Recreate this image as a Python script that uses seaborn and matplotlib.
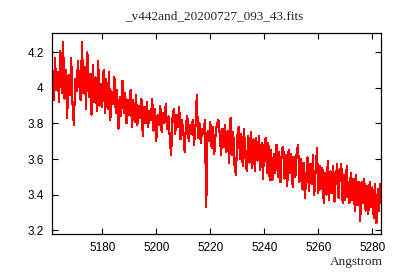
import numpy as np
import pandas as pd
import matplotlib
matplotlib.use("Agg")
import matplotlib.pyplot as plt
import seaborn as sns

title = "_v442and_20200727_093_43.fits"
xlabel = "Angstrom"
wl_start = 5161.5   # first wavelength (Angstrom)
wl_step = 0.5       # sampling step (Angstrom)
flux = [
    4.12, 3.93, 4.17, 3.99, 4.09, 3.92, 4.21, 3.97, 4.26, 3.94,
    4.10, 3.83, 4.07, 3.96, 4.17, 3.91, 3.79, 4.05, 3.98, 4.15,
    4.02, 3.93, 4.26, 3.97, 4.12, 3.88, 4.20, 3.95, 4.08, 3.85,
    4.13, 3.92, 4.06, 3.87, 4.15, 3.90, 4.02, 3.89, 4.10, 3.86,
    4.05, 3.88, 4.09, 3.82, 3.98, 3.91, 4.06, 3.86, 3.99, 3.77,
    3.95, 3.84, 4.04, 3.86, 3.97, 3.80, 3.93, 3.85, 3.99, 3.78,
    3.93, 3.81, 3.96, 3.79, 3.90, 3.83, 3.94, 3.73, 3.89, 3.80,
    3.92, 3.78, 3.87, 3.82, 3.94, 3.76, 3.88, 3.70, 3.85, 3.79,
    3.90, 3.75, 3.86, 3.80, 3.91, 3.77, 3.84, 3.72, 3.62, 3.83,
    3.88, 3.74, 3.85, 3.78, 3.89, 3.71, 3.82, 3.76, 3.64, 3.80,
    3.84, 3.70, 3.79, 3.74, 3.82, 3.68, 3.78, 3.96, 3.72, 3.80,
    3.69, 3.77, 3.74, 3.82, 3.33, 3.76, 3.70, 3.81, 3.66, 3.78,
    3.63, 3.75, 3.80, 3.82, 3.74, 3.62, 3.77, 3.67, 3.79, 3.64,
    3.76, 3.58, 3.83, 3.62, 3.75, 3.56, 3.51, 3.73, 3.78, 3.60,
    3.74, 3.56, 3.77, 3.61, 3.53, 3.73, 3.58, 3.75, 3.55, 3.71,
    3.53, 3.72, 3.59, 3.73, 3.54, 3.69, 3.49, 3.67, 3.72, 3.52,
    3.69, 3.48, 3.65, 3.48, 3.63, 3.52, 3.68, 3.50, 3.64, 3.47,
    3.66, 3.67, 3.49, 3.62, 3.45, 3.65, 3.52, 3.63, 3.44, 3.61,
    3.50, 3.64, 3.68, 3.47, 3.60, 3.43, 3.58, 3.38, 3.49, 3.61,
    3.42, 3.57, 3.46, 3.62, 3.40, 3.54, 3.66, 3.41, 3.56, 3.43,
    3.55, 3.35, 3.52, 3.40, 3.59, 3.37, 3.53, 3.41, 3.56, 3.36,
    3.50, 3.57, 3.38, 3.53, 3.57, 3.35, 3.51, 3.37, 3.56, 3.40,
    3.35, 3.52, 3.37, 3.49, 3.31, 3.51, 3.34, 3.47, 3.25, 3.47,
    3.35, 3.49, 3.31, 3.45, 3.29, 3.47, 3.33, 3.44, 3.27, 3.46,
    3.24, 3.43, 3.31, 3.46,
]
xticks = [5180, 5200, 5220, 5240, 5260, 5280]
yticks = [3.2, 3.4, 3.6, 3.8, 4.0, 4.2]
ytick_labels = ["3.2", "3.4", "3.6", "3.8", "4", "4.2"]

wavelength = wl_start + wl_step * np.arange(len(flux))
df = pd.DataFrame({"wavelength": wavelength, "flux": flux})

sns.set_style("ticks")
plt.rcParams["font.family"] = ["Liberation Sans", "DejaVu Sans"]

fig = plt.figure(figsize=(4.0, 2.8), dpi=100)
ax = fig.add_axes([0.13, 0.1643, 0.8225, 0.7178])
sns.lineplot(data=df, x="wavelength", y="flux", ax=ax, color="#ff0000",
             linewidth=0.8, antialiased=False, estimator=None, sort=False)

ax.set_xlim(5161.4, 5283.2)
ax.set_ylim(3.178, 4.309)
ax.set_xticks(xticks)
ax.set_xticklabels([str(t) for t in xticks])
ax.set_yticks(yticks)
ax.set_yticklabels(ytick_labels)
ax.tick_params(direction="in", length=4, width=0.8, top=True, right=True,
               labelsize=8.5, colors="black", pad=6)
for s in ax.spines.values():
    s.set_linewidth(0.9)
    s.set_color("black")
ax.set_xlabel("")
ax.set_ylabel("")
fig.text(0.535, 0.93, title, ha="center", va="baseline", fontsize=9.5,
         family=["Liberation Serif", "DejaVu Serif"])
fig.text(0.958, 0.055, xlabel, ha="right", va="baseline", fontsize=9.5,
         family=["Liberation Serif", "DejaVu Serif"])

fig.savefig("out.png", dpi=100)
